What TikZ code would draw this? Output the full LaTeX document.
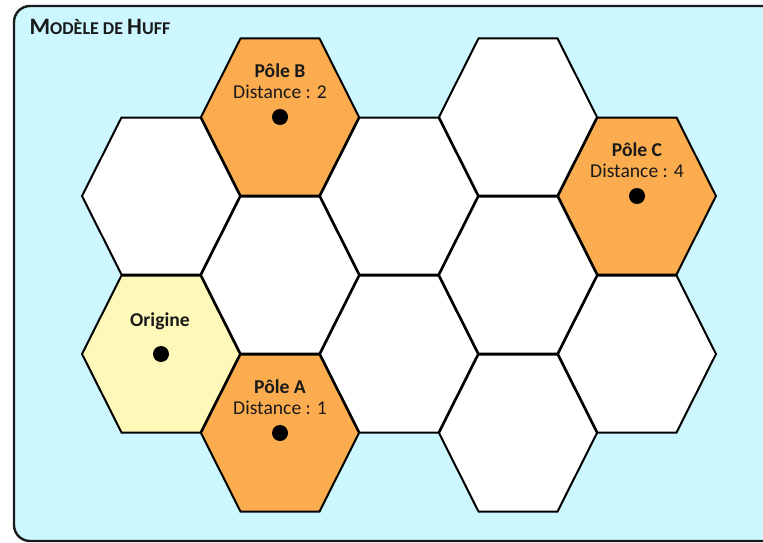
\documentclass[tikz,border=0pt]{standalone}
\usepackage{fontspec}
\setmainfont{Carlito}
\definecolor{panelbg}{HTML}{CCF7FF}
\definecolor{pole}{HTML}{FBAC4E}
\definecolor{origin}{HTML}{FFF9B9}
\definecolor{ink}{HTML}{1A1A1A}
\tikzset{
  panel/.style={draw=ink, line width=2.4pt, fill=panelbg, rounded corners=16pt},
  hexline/.style={draw=black, line width=2pt, line join=miter},
  dot/.style={circle, fill=black, inner sep=0pt, minimum size=16pt},
  lblbold/.style={anchor=base, inner sep=0pt, text=ink, font=\fontsize{19.6}{21}\selectfont\bfseries},
  lbl/.style={anchor=base, inner sep=0pt, text=ink, font=\fontsize{19.6}{21}\selectfont},
}
\newcommand\hexcell[4]{%
  \draw[hexline, fill=#3] (#1+79,#2) -- (#1+39.5,#2+78.5) -- (#1-39.5,#2+78.5)
    -- (#1-79,#2) -- (#1-39.5,#2-78.5) -- (#1+39.5,#2-78.5) -- cycle;
  \coordinate (#4) at (#1,#2);}
\begin{document}
\begin{tikzpicture}[x=1pt,y=-1pt]
\useasboundingbox (0,0) rectangle (763,543);
\begin{scope}
  \clip (0,0) rectangle (763,543);
  \draw[panel] (14,6) rectangle (800,541);
\end{scope}
\node[anchor=base west, inner sep=0pt, text=ink, font=\bfseries] (title) at (29.5,34.3)
  {\fontsize{23.5}{25}\selectfont M\fontsize{18}{20}\selectfont ODÈLE DE \fontsize{23.5}{25}\selectfont H\fontsize{18}{20}\selectfont UFF};
% column 1
\hexcell{161}{196}{white}{h11}
\hexcell{161}{354}{origin}{O}
% column 2
\hexcell{280}{117}{pole}{B}
\hexcell{280}{275}{white}{h22}
\hexcell{280}{433}{pole}{A}
% column 3
\hexcell{399}{196}{white}{h31}
\hexcell{399}{354}{white}{h32}
% column 4
\hexcell{518}{117}{white}{h41}
\hexcell{518}{275}{white}{h42}
\hexcell{518}{433}{white}{h43}
% column 5
\hexcell{637}{196}{pole}{C}
\hexcell{637}{354}{white}{h52}
% labels
\node[lblbold] (Bt) at (280,77.3) {Pôle B};
\node[lbl] (Bd) at (280,98.3) {Distance : 2};
\node[dot] (Bp) at (B) {};
\node[lblbold] (Ct) at (637,156) {Pôle C};
\node[lbl] (Cd) at (637,177.5) {Distance : 4};
\node[dot] (Cp) at (C) {};
\node[lblbold] (Ot) at (160,326.7) {Origine};
\node[dot] (Op) at (O) {};
\node[lblbold] (At) at (280,393.3) {Pôle A};
\node[lbl] (Ad) at (280,414.3) {Distance : 1};
\node[dot] (Ap) at (A) {};
\end{tikzpicture}
\end{document}
